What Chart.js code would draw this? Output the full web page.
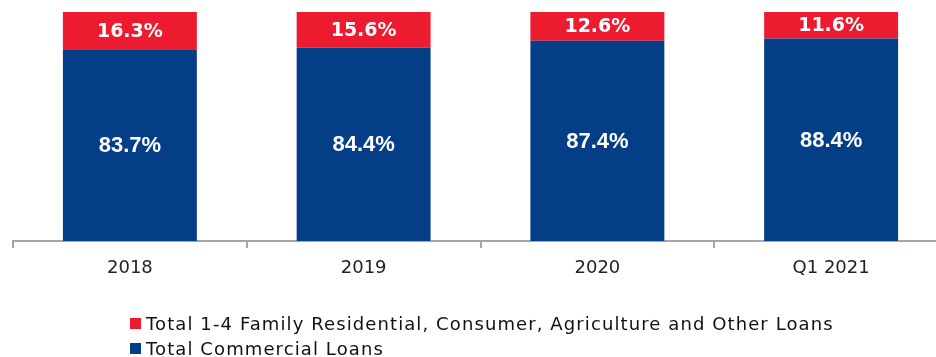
<!DOCTYPE html>
<html>
<head>
<meta charset="utf-8">
<script src="https://cdn.jsdelivr.net/npm/chart.js@4/dist/chart.umd.min.js"></script>
<style>
  html, body { margin: 0; padding: 0; background: #fff; overflow: hidden; width: 936px; height: 357px; }
  #wrap { position: relative; width: 950px; height: 357px; }
  #legend { position: absolute; left: 130px; top: 311px; font-family: "DejaVu Sans", sans-serif; font-size: 18px; letter-spacing: 1.1px; color: #111; line-height: 25px; }
  .item { display: flex; align-items: center; white-space: nowrap; }
  .sw { width: 11px; height: 11px; margin-right: 5px; display: inline-block; }
</style>
</head>
<body>
<div id="wrap">
  <canvas id="c" width="950" height="357"></canvas>
  <div id="legend"></div>
</div>
<script>
const categories = ['2018', '2019', '2020', 'Q1 2021'];
const commercialLoans = [83.7, 84.4, 87.4, 88.4];
const otherLoans = [16.3, 15.6, 12.6, 11.6];
const seriesNames = ['Total 1-4 Family Residential, Consumer, Agriculture and Other Loans', 'Total Commercial Loans'];

const RED = '#ED1B2F';
const BLUE = '#043E86';

const labelPlugin = {
  id: 'barLabels',
  afterDatasetsDraw(chart) {
    const ctx = chart.ctx;
    ctx.save();
    ctx.fillStyle = '#fff';
    ctx.textAlign = 'center';
    ctx.textBaseline = 'middle';
    chart.data.datasets.forEach((ds, di) => {
      const meta = chart.getDatasetMeta(di);
      meta.data.forEach((bar, i) => {
        const v = ds.data[i];
        const yMid = (bar.y + bar.base) / 2;
        if (di === 0) {
          ctx.font = 'bold 22px "Liberation Sans", Arial, sans-serif';
        } else {
          ctx.font = 'bold 19px "DejaVu Sans", sans-serif';
        }
        ctx.fillText(v.toFixed(1) + '%', bar.x, yMid + 1);
      });
    });
    ctx.restore();
  }
};

const chart = new Chart(document.getElementById('c'), {
  type: 'bar',
  data: {
    labels: categories,
    datasets: [
      { label: seriesNames[1], data: commercialLoans, backgroundColor: BLUE, categoryPercentage: 1, barPercentage: 0.573 },
      { label: seriesNames[0], data: otherLoans, backgroundColor: RED, categoryPercentage: 1, barPercentage: 0.573 }
    ]
  },
  options: {
    responsive: false,
    animation: false,
    layout: { padding: { left: 13, right: 2, top: 12, bottom: 0 } },
    plugins: { legend: { display: false }, tooltip: { enabled: false } },
    scales: {
      x: {
        stacked: true,
        grid: { display: true, drawOnChartArea: false, drawTicks: true, tickLength: 7, color: '#a6a6a6', lineWidth: 2, offset: true },
        border: { display: true, color: '#a6a6a6', width: 2 },
        ticks: { color: '#222', font: { family: '"DejaVu Sans", sans-serif', size: 18 }, padding: 10 },
        afterFit(s) { s.height = 116; }
      },
      y: {
        stacked: true,
        display: false,
        min: 0,
        max: 100
      }
    }
  },
  plugins: [labelPlugin]
});

const legend = document.getElementById('legend');
[[seriesNames[0], RED], [seriesNames[1], BLUE]].forEach(([name, col]) => {
  const d = document.createElement('div');
  d.className = 'item';
  const s = document.createElement('span');
  s.className = 'sw';
  s.style.background = col;
  d.appendChild(s);
  d.appendChild(document.createTextNode(name));
  legend.appendChild(d);
});
</script>
</body>
</html>
